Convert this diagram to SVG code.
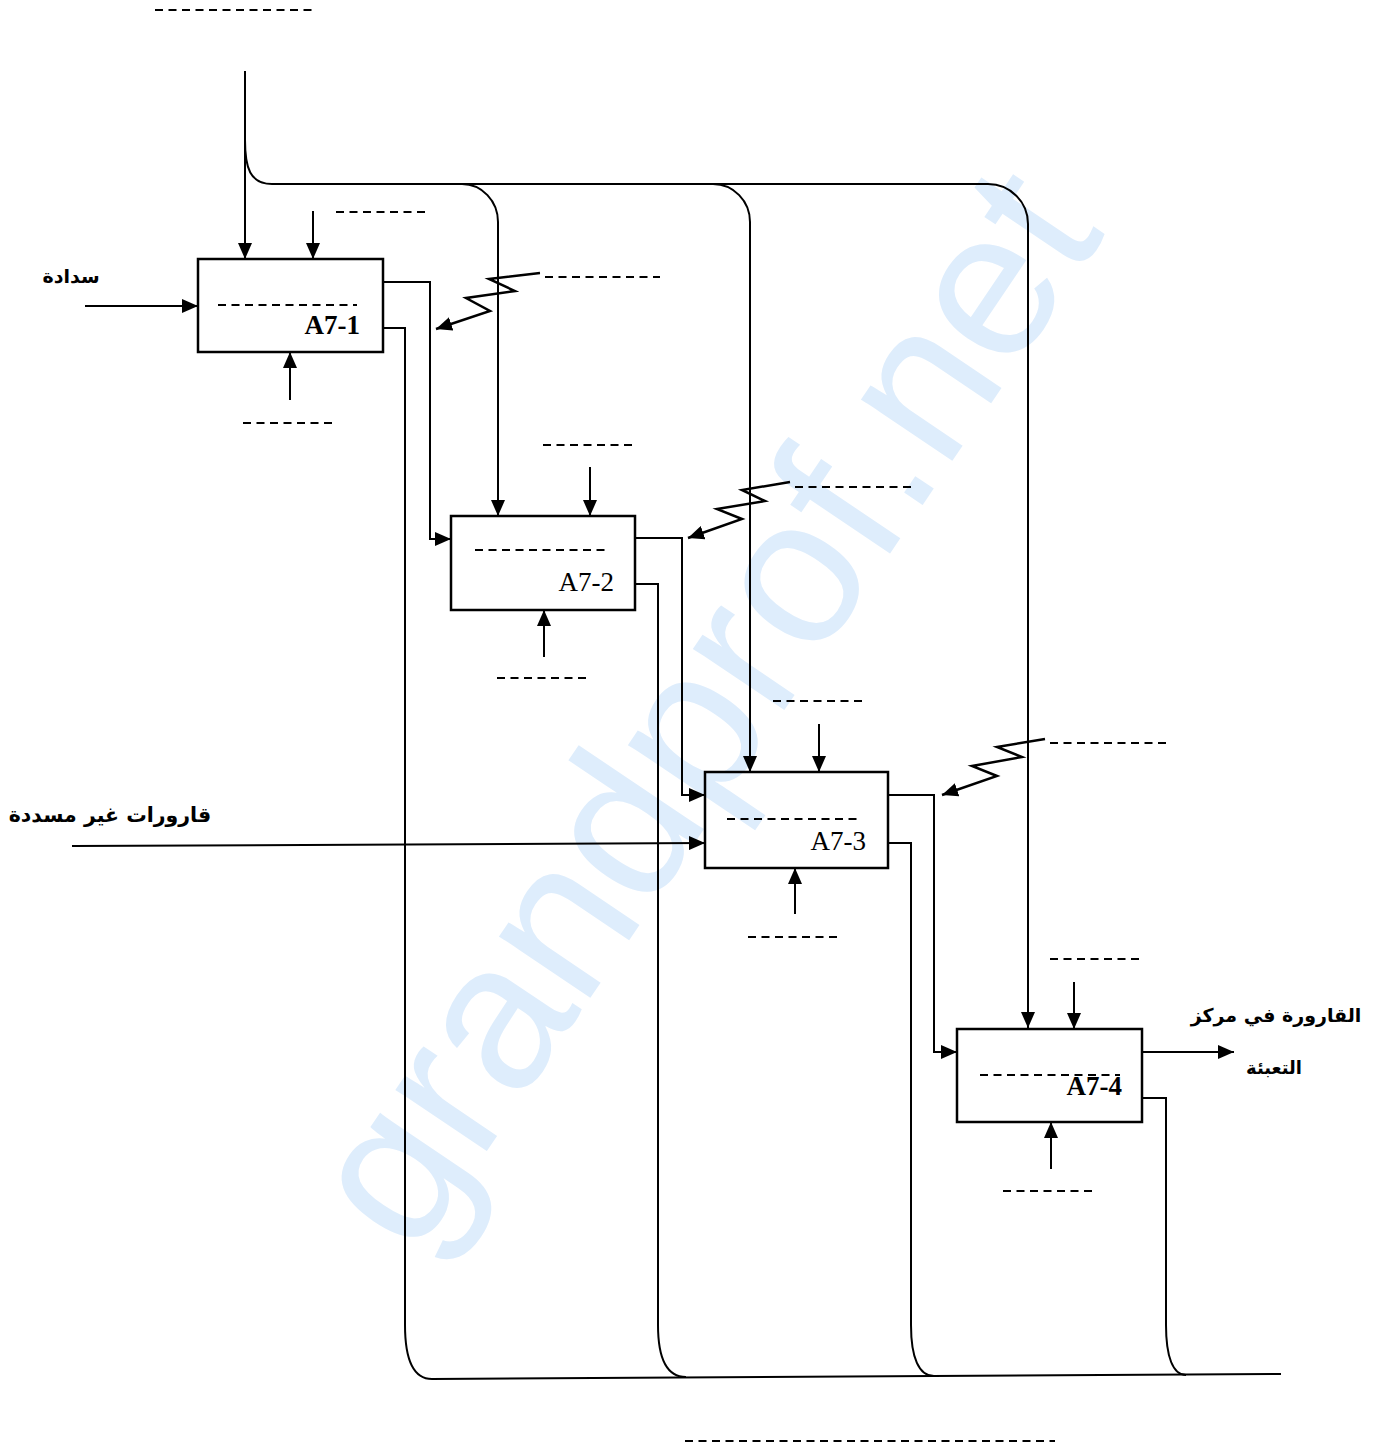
<svg xmlns="http://www.w3.org/2000/svg" width="1382" height="1443" viewBox="0 0 1382 1443">
<style>
.ln{stroke:#000;stroke-width:2;fill:none}
.zz{stroke:#000;stroke-width:2.5;fill:none;stroke-linejoin:miter}
.box{fill:none;stroke:#000;stroke-width:2.5}
.dash{stroke:#000;stroke-width:2;stroke-dasharray:8 5.5;fill:none}
.lbl{font-family:"Liberation Serif",serif;font-size:27px;fill:#000;text-anchor:end}
.ar{font-family:"DejaVu Sans",sans-serif;font-weight:bold;fill:#000;text-anchor:middle}
.wm{font-family:"Liberation Sans",Arial,sans-serif;font-size:208px;fill:#deedfc;text-anchor:middle}
</style>
<defs>
<marker id="ah" viewBox="0 0 16 14" refX="16" refY="7" markerWidth="16" markerHeight="14" markerUnits="userSpaceOnUse" orient="auto">
<path d="M0,0 L16,7 L0,14 z" fill="#000"/>
</marker>
</defs>
<rect width="1382" height="1443" fill="#fff"/>
<text class="wm" transform="translate(760,746) rotate(-56)">grandprof.net</text>

<g id="connectors">
<path class="ln" d="M245,71 V259" marker-end="url(#ah)" stroke-width="2.5"/>
<path class="ln" d="M245,140 C245,168 250,184 272,184 H462"/>
<path class="ln" d="M462,184 A36,38 0 0 1 498,222 V516" marker-end="url(#ah)"/>
<path class="ln" d="M462,184 H713 A37,38 0 0 1 750,222 V772" marker-end="url(#ah)"/>
<path class="ln" d="M713,184 H988 A40,40 0 0 1 1028,224 V1028" marker-end="url(#ah)"/>
<path class="ln" d="M313,211 V259" marker-end="url(#ah)"/>
<path class="ln" d="M590,467 V516" marker-end="url(#ah)"/>
<path class="ln" d="M819,724 V772" marker-end="url(#ah)"/>
<path class="ln" d="M1074,982 V1029" marker-end="url(#ah)"/>
<path class="ln" d="M290,400 V352" marker-end="url(#ah)"/>
<path class="ln" d="M544,657 V610" marker-end="url(#ah)"/>
<path class="ln" d="M795,914 V868" marker-end="url(#ah)"/>
<path class="ln" d="M1051,1169 V1122" marker-end="url(#ah)"/>
<path class="ln" d="M85,306 H198" marker-end="url(#ah)"/>
<path class="ln" d="M72,846 L705,843" marker-end="url(#ah)"/>
<path class="ln" d="M383,282 H430 V539 H451" marker-end="url(#ah)"/>
<path class="ln" d="M635,538 H682 V795 H705" marker-end="url(#ah)"/>
<path class="ln" d="M888,795 H934 V1052 H957" marker-end="url(#ah)"/>
<path class="ln" d="M1142,1052 H1234" marker-end="url(#ah)"/>
<path class="ln" d="M383,328 H405 V1325 C405,1362 414,1379 432,1379"/>
<path class="ln" d="M635,584 H658 V1325 C658,1360 667,1377 686,1377"/>
<path class="ln" d="M888,843 H911 V1325 C911,1358 919,1376 934,1376"/>
<path class="ln" d="M1142,1098 H1166 V1325 C1166,1357 1173,1375 1186,1375"/>
<path class="ln" d="M432,1379 L1281,1374" stroke-width="2.5"/>
<polyline class="zz" points="540,273 489,279 515,291 466,298 490,311 436,329" marker-end="url(#ah)"/>
<polyline class="zz" points="790,482 742,490 765,501 717,509 742,519 688,538" marker-end="url(#ah)"/>
<polyline class="zz" points="1045,739 997,747 1022,757 972,766 997,776 942,795" marker-end="url(#ah)"/>
</g>

<g id="arrow-labels">
<path class="dash" d="M155,10 H316"/>
<path class="dash" d="M336,212 H430"/>
<path class="dash" d="M545,277 H660"/>
<path class="dash" d="M243,423 H336"/>
<path class="dash" d="M543,445 H635"/>
<path class="dash" d="M795,487 H913"/>
<path class="dash" d="M497,678 H590"/>
<path class="dash" d="M773,701 H865"/>
<path class="dash" d="M1050,743 H1167"/>
<path class="dash" d="M748,937 H842"/>
<path class="dash" d="M1050,959 H1143"/>
<path class="dash" d="M1003,1191 H1097"/>
<path class="dash" d="M685,1441 H1055"/>
<text class="ar" x="71" y="283" font-size="19">سدادة</text>
<text class="ar" x="110" y="822" font-size="20.5">قارورات غير مسددة</text>
<text class="ar" x="1276" y="1022" font-size="19">القارورة في مركز</text>
<text class="ar" x="1274" y="1074" font-size="18">التعبئة</text>
</g>

<g id="A7-1">
<rect class="box" x="198" y="259" width="185" height="93"/>
<path class="dash" d="M218,305 H357"/>
<text class="lbl" x="360" y="334" font-weight="bold">A7-1</text>
</g>
<g id="A7-2">
<rect class="box" x="451" y="516" width="184" height="94"/>
<path class="dash" d="M475,550 H610"/>
<text class="lbl" x="614" y="591">A7-2</text>
</g>
<g id="A7-3">
<rect class="box" x="705" y="772" width="183" height="96"/>
<path class="dash" d="M727,819 H862"/>
<text class="lbl" x="866" y="850">A7-3</text>
</g>
<g id="A7-4">
<rect class="box" x="957" y="1029" width="185" height="93"/>
<path class="dash" d="M980,1075 H1120"/>
<text class="lbl" x="1122" y="1095" font-weight="bold">A7-4</text>
</g>
</svg>
